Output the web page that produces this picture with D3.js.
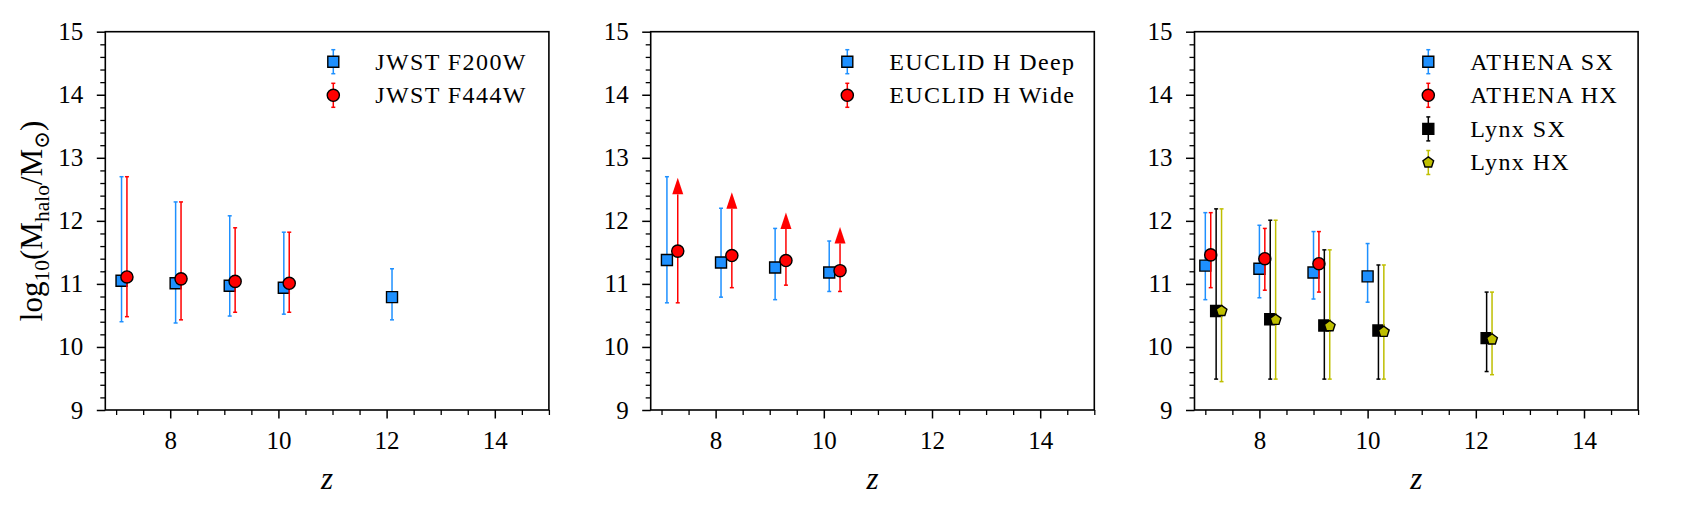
<!DOCTYPE html>
<html>
<head>
<meta charset="utf-8">
<script src="https://cdn.jsdelivr.net/npm/d3@7"></script>
<style>
  body { margin: 0; background: #fff; }
</style>
</head>
<body>
<svg id="chart" width="1688" height="513"></svg>
<script>
// redshift bins and halo mass estimates
const zJwst200 = [7.1, 8.1, 9.1, 10.1, 12.1];
const mJwst200 = [11.05, 11.01, 10.97, 10.94, 10.79];
const loJwst200 = [10.40, 10.38, 10.49, 10.52, 10.43];
const hiJwst200 = [12.70, 12.30, 12.08, 11.82, 11.24];

const zJwst444 = [7.2, 8.2, 9.2, 10.2];
const mJwst444 = [11.11, 11.08, 11.04, 11.01];
const loJwst444 = [10.48, 10.43, 10.55, 10.55];
const hiJwst444 = [12.70, 12.30, 11.89, 11.82];

const zEuclidDeep = [7.1, 8.1, 9.1, 10.1];
const mEuclidDeep = [11.38, 11.34, 11.26, 11.18];
const loEuclidDeep = [10.70, 10.79, 10.75, 10.88];
const hiEuclidDeep = [12.70, 12.20, 11.88, 11.68];

// wide survey only gives lower limits (arrows)
const zEuclidWide = [7.3, 8.3, 9.3, 10.3];
const mEuclidWide = [11.52, 11.45, 11.37, 11.21];
const loEuclidWide = [10.70, 10.94, 10.98, 10.88];
const hiEuclidWide = [12.42, 12.19, 11.87, 11.64];

const zAthenaSX = [7.0, 8.0, 9.0, 10.0];
const mAthenaSX = [11.29, 11.24, 11.18, 11.12];
const loAthenaSX = [10.75, 10.78, 10.76, 10.71];
const hiAthenaSX = [12.13, 11.93, 11.83, 11.64];

const zAthenaHX = [7.1, 8.1, 9.1];
const mAthenaHX = [11.46, 11.40, 11.32];
const loAthenaHX = [10.94, 10.90, 10.87];
const hiAthenaHX = [12.13, 11.88, 11.83];

const zLynxSX = [7.2, 8.2, 9.2, 10.2, 12.2];
const mLynxSX = [10.57, 10.44, 10.34, 10.26, 10.14];
const loLynxSX = [9.49, 9.49, 9.49, 9.49, 9.61];
const hiLynxSX = [12.19, 12.01, 11.54, 11.30, 10.87];

const zLynxHX = [7.3, 8.3, 9.3, 10.3, 12.3];
const mLynxHX = [10.57, 10.43, 10.33, 10.24, 10.12];
const loLynxHX = [9.45, 9.49, 9.49, 9.49, 9.56];
const hiLynxHX = [12.19, 12.01, 11.54, 11.30, 10.87];

const xTicks = [8, 10, 12, 14];
const yTicks = [9, 10, 11, 12, 13, 14, 15];
const xDomain = [6.8, 15];
const yDomain = [9, 15];

const blue = '#1e90ff';
const red = '#ff0000';
const black = '#000000';
const olive = '#bfbf00';
const serif = '"Liberation Serif", "DejaVu Serif", serif';

function series(label, z, m, lo, hi, shape, color, limit) {
  const points = z.map((v, i) => ({ z: v, m: m[i], lo: lo[i], hi: hi[i] }));
  return { label, points, shape, color, limit: !!limit };
}

const panels = [
  {
    legendX: 228,
    series: [
      series('JWST F200W', zJwst200, mJwst200, loJwst200, hiJwst200, 'square', blue),
      series('JWST F444W', zJwst444, mJwst444, loJwst444, hiJwst444, 'circle', red),
    ],
  },
  {
    legendX: 196.6,
    series: [
      series('EUCLID H Deep', zEuclidDeep, mEuclidDeep, loEuclidDeep, hiEuclidDeep, 'square', blue),
      series('EUCLID H Wide', zEuclidWide, mEuclidWide, loEuclidWide, hiEuclidWide, 'circle', red, true),
    ],
  },
  {
    legendX: 233.8,
    series: [
      series('ATHENA SX', zAthenaSX, mAthenaSX, loAthenaSX, hiAthenaSX, 'square', blue),
      series('ATHENA HX', zAthenaHX, mAthenaHX, loAthenaHX, hiAthenaHX, 'circle', red),
      series('Lynx SX', zLynxSX, mLynxSX, loLynxSX, hiLynxSX, 'square', black),
      series('Lynx HX', zLynxHX, mLynxHX, loLynxHX, hiLynxHX, 'pentagon', olive),
    ],
  },
];

const svg = d3.select('#chart');
const panelLeft = [105.3, 650.7, 1194.5];
const plotTop = 31.7;
const plotW = 443.6;
const plotH = 378.3;

const pentagon = {
  draw(context, size) {
    const r = Math.sqrt(size / 2.378);
    for (let k = 0; k < 5; k++) {
      const a = -Math.PI / 2 + k * 2 * Math.PI / 5;
      if (k === 0) context.moveTo(r * Math.cos(a), r * Math.sin(a));
      else context.lineTo(r * Math.cos(a), r * Math.sin(a));
    }
    context.closePath();
  }
};

function symbolPath(shape) {
  if (shape === 'square') return d3.symbol(d3.symbolSquare, 121)();
  if (shape === 'circle') return d3.symbol(d3.symbolCircle, 116)();
  return d3.symbol(pentagon, 75)();
}

function drawErrorBar(g, x, yLo, yHi, color, limit) {
  g.append('line')
    .attr('x1', x).attr('x2', x)
    .attr('y1', yLo).attr('y2', yHi)
    .attr('stroke', color).attr('stroke-width', 1.5);
  g.append('line')
    .attr('x1', x - 2).attr('x2', x + 2)
    .attr('y1', yLo).attr('y2', yLo)
    .attr('stroke', color).attr('stroke-width', 1.5);
  if (limit) {
    g.append('path')
      .attr('d', `M${x - 5.5},${yHi}L${x + 5.5},${yHi}L${x},${yHi - 16.5}Z`)
      .attr('fill', color);
  } else {
    g.append('line')
      .attr('x1', x - 2).attr('x2', x + 2)
      .attr('y1', yHi).attr('y2', yHi)
      .attr('stroke', color).attr('stroke-width', 1.5);
  }
}

function drawMarker(g, x, y, s) {
  g.append('path')
    .attr('d', symbolPath(s.shape))
    .attr('transform', `translate(${x},${y})`)
    .attr('fill', s.color)
    .attr('stroke', black)
    .attr('stroke-width', 1.4);
}

function styleAxis(a, width) {
  a.select('.domain').remove();
  a.attr('font-family', serif).attr('font-size', 25);
  a.selectAll('line').attr('stroke-width', width);
}

panels.forEach((panel, p) => {
  const g = svg.append('g').attr('transform', `translate(${panelLeft[p]},${plotTop})`);
  const x = d3.scaleLinear().domain(xDomain).range([0, plotW]);
  const y = d3.scaleLinear().domain(yDomain).range([plotH, 0]);

  // minor ticks first, major on top
  const xMinor = d3.range(7, 15.01, 0.5).filter(v => !xTicks.includes(v));
  const yMinor = d3.range(9, 15.001, 0.2).map(v => +v.toFixed(1)).filter(v => !yTicks.includes(v));

  g.append('g')
    .attr('transform', `translate(0,${plotH})`)
    .call(d3.axisBottom(x).tickValues(xMinor).tickSize(5).tickFormat(''))
    .call(a => styleAxis(a, 1.3));
  g.append('g')
    .call(d3.axisLeft(y).tickValues(yMinor).tickSize(5).tickFormat(''))
    .call(a => styleAxis(a, 1.3));

  g.append('g')
    .attr('transform', `translate(0,${plotH})`)
    .call(d3.axisBottom(x).tickValues(xTicks).tickSize(8.5).tickPadding(13).tickFormat(d3.format('d')))
    .call(a => styleAxis(a, 1.5));
  g.append('g')
    .call(d3.axisLeft(y).tickValues(yTicks).tickSize(8.5).tickPadding(13.5).tickFormat(d3.format('d')))
    .call(a => styleAxis(a, 1.5));

  const marks = g.append('g');
  panel.series.forEach(s => {
    const sg = marks.append('g');
    s.points.forEach(d => drawErrorBar(sg, x(d.z), y(d.lo), y(d.hi), s.color, s.limit));
    s.points.forEach(d => drawMarker(sg, x(d.z), y(d.m), s));
  });

  g.append('rect')
    .attr('width', plotW).attr('height', plotH)
    .attr('fill', 'none').attr('stroke', black).attr('stroke-width', 1.6);

  // legend
  const legend = g.append('g').attr('transform', `translate(${panel.legendX},30)`);
  panel.series.forEach((s, i) => {
    const row = legend.append('g').attr('transform', `translate(0,${i * 33.6})`);
    row.append('line').attr('y1', -12).attr('y2', 12).attr('stroke', s.color).attr('stroke-width', 1.5);
    row.append('line').attr('x1', -2).attr('x2', 2).attr('y1', -12).attr('y2', -12).attr('stroke', s.color).attr('stroke-width', 1.5);
    row.append('line').attr('x1', -2).attr('x2', 2).attr('y1', 12).attr('y2', 12).attr('stroke', s.color).attr('stroke-width', 1.5);
    drawMarker(row, 0, 0, s);
    row.append('text')
      .attr('x', 42).attr('y', 7.8)
      .attr('font-family', serif)
      .attr('font-size', 24)
      .attr('letter-spacing', 1.4)
      .text(s.label);
  });

  g.append('text')
    .attr('x', plotW / 2).attr('y', plotH + 79)
    .attr('text-anchor', 'middle')
    .attr('font-family', serif)
    .attr('font-size', 31)
    .attr('font-style', 'italic')
    .text('z');

  if (p === 0) {
    const lab = g.append('text')
      .attr('transform', `translate(${42 - panelLeft[0]},${plotH / 2}) rotate(-90)`)
      .attr('text-anchor', 'middle')
      .attr('font-family', serif)
      .attr('font-size', 31);
    lab.append('tspan').text('log');
    lab.append('tspan').attr('font-size', 21.5).attr('dy', 6.5).text('10');
    lab.append('tspan').attr('dy', -6.5).text('(M');
    lab.append('tspan').attr('font-size', 21.5).attr('dy', 6.5).text('halo');
    lab.append('tspan').attr('dy', -6.5).text('/M');
    lab.append('tspan').attr('font-size', 21.5).attr('dy', 6.5).text('\u2299');
    lab.append('tspan').attr('dy', -6.5).text(')');
  }
});
</script>
</body>
</html>
